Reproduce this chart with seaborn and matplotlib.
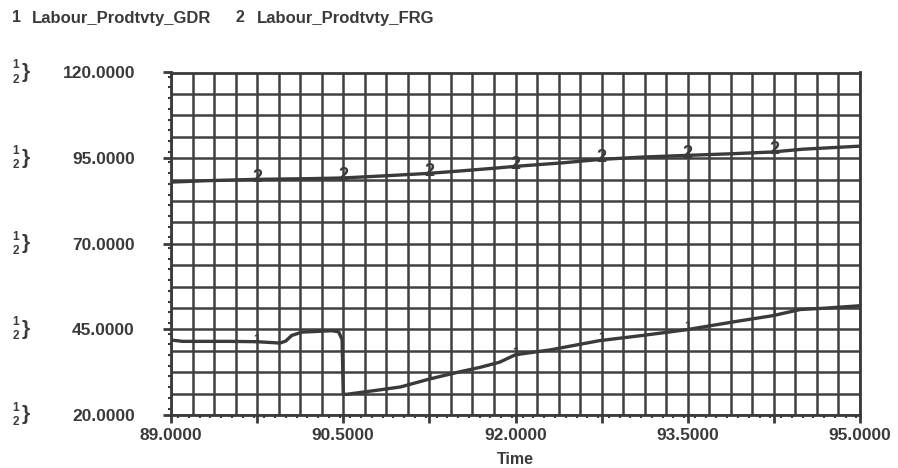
import numpy as np
import pandas as pd
import matplotlib
matplotlib.use("Agg")
import matplotlib.pyplot as plt
import matplotlib.transforms as mtransforms
from matplotlib.ticker import FixedLocator, MultipleLocator, FuncFormatter
import seaborn as sns

# --- data -----------------------------------------------------------------
gdr_time = [89.0, 89.1, 89.5, 89.75, 89.95, 90.0, 90.05, 90.14, 90.4, 90.46,
            90.49, 90.5, 90.52, 90.81, 91.0, 91.25, 91.5, 91.69, 91.86, 92.0,
            92.3, 92.73, 93.1, 93.49, 93.9, 94.24, 94.48, 94.7, 95.0]
gdr_value = [41.9, 41.5, 41.5, 41.4, 41.0, 41.6, 43.2, 44.2, 44.6, 44.3,
             42.0, 26.3, 26.0, 27.3, 28.2, 30.5, 32.5, 33.9, 35.4, 37.6,
             39.0, 41.7, 43.2, 44.9, 47.2, 49.0, 50.8, 51.2, 51.9]

frg_time = [89.0, 89.3, 89.74, 90.2, 90.49, 90.9, 91.22, 91.5, 91.83, 92.0,
            92.4, 92.73, 93.1, 93.49, 93.9, 94.24, 94.5, 95.0]
frg_value = [88.0, 88.4, 88.8, 89.0, 89.2, 89.9, 90.5, 91.2, 92.1, 92.6,
             93.6, 94.6, 95.3, 95.8, 96.3, 96.8, 97.6, 98.5]

series_names = ["Labour_Prodtvty_GDR", "Labour_Prodtvty_FRG"]
series_ids = ["1", "2"]
marker_times = [89.75, 90.5, 91.25, 92.0, 92.75, 93.5, 94.25]

y_ticks = [20, 45, 70, 95, 120]
x_ticks = [89.0, 90.5, 92.0, 93.5, 95.0]

# --- styling --------------------------------------------------------------
ink = "#3a3a3a"
sns.set_style("white")
plt.rcParams["font.family"] = ["Liberation Sans", "DejaVu Sans"]
plt.rcParams["font.weight"] = "bold"

df = pd.concat([
    pd.DataFrame({"Time": gdr_time, "value": gdr_value, "series": series_names[0]}),
    pd.DataFrame({"Time": frg_time, "value": frg_value, "series": series_names[1]}),
])

W, H = 898, 468
fig = plt.figure(figsize=(W / 100, H / 100), dpi=100)
ax = fig.add_axes([171 / W, 1 - 415 / H, 689 / W, (415 - 72.5) / H])

# grid drawn first so the curves sit on top
for gx in np.arange(89.0, 95.0001, 0.1875):
    ax.axvline(gx, color="#404040", lw=1.8, zorder=1)
for gy in np.arange(20.0, 120.0001, 6.25):
    ax.axhline(gy, color="#404040", lw=1.8, zorder=1)

sns.lineplot(data=df, x="Time", y="value", hue="series", units="series",
             estimator=None, sort=False, palette=[ink, ink], lw=2.4,
             legend=False, ax=ax, zorder=3)

ax.set_xlim(89.0, 95.0)
ax.set_ylim(20.0, 120.0)

# numbered tags along each curve
for sid, (tt, vv) in zip(series_ids, [(gdr_time, gdr_value), (frg_time, frg_value)]):
    for mt in marker_times:
        if sid == "1" and mt == 90.5:
            continue
        ax.text(mt, np.interp(mt, tt, vv) + 0.6, sid, ha="center", va="center",
                fontsize=13 if sid == "2" else 9, fontweight="bold",
                color=ink, zorder=4)

# ticks
ax.xaxis.set_major_locator(FixedLocator(np.arange(89.0, 95.0001, 0.75)))
ax.xaxis.set_major_formatter(FuncFormatter(
    lambda v, p: f"{v:.4f}" if any(abs(v - t) < 1e-6 for t in x_ticks) else ""))
ax.xaxis.set_minor_locator(MultipleLocator(0.09375))
ax.yaxis.set_major_locator(FixedLocator(y_ticks))
ax.yaxis.set_major_formatter(FuncFormatter(lambda v, p: f"{v:.4f}"))
ax.yaxis.set_minor_locator(MultipleLocator(3.125))

ax.tick_params(axis="both", which="major", bottom=True, left=True,
               direction="out", length=6, width=2.0, color=ink,
               labelcolor=ink, labelsize=12.5)
ax.tick_params(axis="both", which="minor", bottom=True, left=True,
               direction="out", length=2.5, width=1.5, color=ink)

for sp in ax.spines.values():
    sp.set_color(ink)
    sp.set_linewidth(2.0)

ax.set_ylabel("")


def place_tick_labels():
    # pad the tick labels so the y labels end at x=135 px and the
    # x labels are centred at y=435 px (from the top)
    ypad, xpad = 20.0, 4.0
    for _ in range(4):
        ax.yaxis.set_tick_params(which="major", pad=ypad)
        ax.xaxis.set_tick_params(which="major", pad=xpad)
        fig.canvas.draw()
        ylab = ax.get_yticklabels()[-1].get_window_extent()
        xlab = [t for t in ax.get_xticklabels() if t.get_text()][0].get_window_extent()
        ypad += (ylab.x1 - 135) * 72 / 100
        xpad += ((xlab.y0 + xlab.y1) / 2 - (H - 435)) * 72 / 100
        xpad = max(xpad, 0.0)
    ax.yaxis.set_tick_params(which="major", pad=ypad)
    ax.xaxis.set_tick_params(which="major", pad=xpad)


place_tick_labels()
ax.set_xlabel("Time", fontsize=11.5, fontweight="bold", color=ink, labelpad=6.5)

# series key glyphs beside each y label
trans = mtransforms.blended_transform_factory(fig.transFigure, ax.transData)
for yv in y_ticks:
    ax.text(16 / W, yv + 0.3, "1", transform=trans, ha="center", va="bottom",
            fontsize=8.5, fontweight="bold", color=ink, clip_on=False)
    ax.text(16 / W, yv - 0.3, "2", transform=trans, ha="center", va="top",
            fontsize=8.5, fontweight="bold", color=ink, clip_on=False)
    ax.text(26 / W, yv, "}", transform=trans, ha="center", va="center",
            fontsize=15, fontweight="bold", color=ink, clip_on=False)

# legend line at the top
fig.text(12 / W, 1 - 18 / H, "1", fontsize=11.5, fontweight="bold",
         color=ink, va="center", ha="left")
fig.text(32 / W, 1 - 18 / H, series_names[0], fontsize=12,
         fontweight="bold", color=ink, va="center", ha="left")
fig.text(235 / W, 1 - 18 / H, "2", fontsize=11.5, fontweight="bold",
         color=ink, va="center", ha="left")
fig.text(257 / W, 1 - 18 / H, series_names[1], fontsize=12,
         fontweight="bold", color=ink, va="center", ha="left")

fig.savefig("out.png", dpi=100, facecolor="white")
